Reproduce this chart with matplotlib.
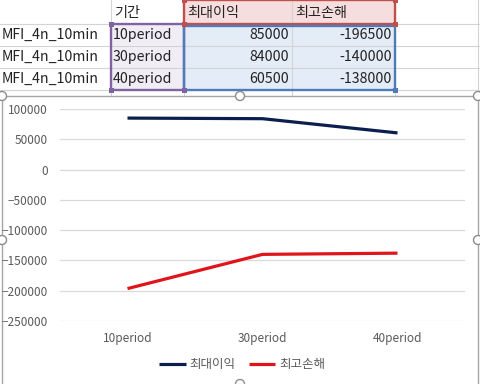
import matplotlib
matplotlib.use('Agg')
import matplotlib.pyplot as plt
from matplotlib.patches import Rectangle, Circle

plt.rcParams['font.family'] = ['Noto Sans CJK KR', 'DejaVu Sans']

# data
row_names = ['MFI_4n_10min', 'MFI_4n_10min', 'MFI_4n_10min']
periods = ['10period', '30period', '40period']
header = ['기간', '최대이익', '최고손해']
max_profit = [85000, 84000, 60500]
max_loss = [-196500, -140000, -138000]

navy = '#0B1F4F'
red = '#E0141B'
grid_gray = '#D9D9D9'
text_gray = '#595959'

fig = plt.figure(figsize=(4.8, 3.84), dpi=100)
fig.patch.set_facecolor('white')

# background axes in pixel coords for the sheet part
bg = fig.add_axes([0, 0, 1, 1])
bg.set_xlim(0, 480)
bg.set_ylim(384, 0)
bg.axis('off')

col_x = [0, 111, 184, 292, 395, 478]
row_y = [0, 24, 46, 68, 90]

# cell fills
bg.add_patch(Rectangle((184, 0), 211, 24, facecolor='#F5DEDD', edgecolor='none'))
bg.add_patch(Rectangle((184, 24), 211, 66, facecolor='#E3ECF7', edgecolor='none'))
bg.add_patch(Rectangle((111, 24), 73, 66, facecolor='#F1EDF5', edgecolor='none'))

# sheet grid
for y in row_y[1:]:
    bg.plot([0, 480], [y, y], color='#D4D4D4', lw=0.8, zorder=1.5)
for x in col_x[1:]:
    bg.plot([x, x], [0, 96], color='#D4D4D4', lw=0.8, zorder=1.5)

# range borders
bg.add_patch(Rectangle((184, 0), 211, 24, fill=False, edgecolor='#C0504D', lw=1.7, zorder=3))
bg.add_patch(Rectangle((111, 24), 73, 66, fill=False, edgecolor='#8064A2', lw=1.7, zorder=3))
bg.add_patch(Rectangle((184, 26), 211, 64, fill=False, edgecolor='#4F7CB8', lw=1.7, zorder=3))
for (hx, hy, c) in [(184, 0, '#C0504D'), (395, 0, '#C0504D'), (184, 24, '#C0504D'),
                    (395, 24, '#C0504D'), (111, 24, '#8064A2'), (111, 90, '#8064A2'),
                    (184, 90, '#8064A2'), (395, 90, '#4F7CB8')]:
    bg.add_patch(Rectangle((hx - 2.5, hy - 2.5), 5, 5, facecolor=c, edgecolor='none', zorder=4))

# sheet text
fs = 10.2
bg.text(114, 13, header[0], fontsize=fs, va='center', color='#222222')
bg.text(187, 13, header[1], fontsize=fs, va='center', color='#222222')
bg.text(295, 13, header[2], fontsize=fs, va='center', color='#222222')
for i in range(3):
    yc = (row_y[i + 1] + row_y[i + 2]) / 2
    bg.text(2, yc, row_names[i], fontsize=fs, va='center', color='#222222')
    bg.text(113, yc, periods[i], fontsize=fs, va='center', color='#222222')
    bg.text(289, yc, str(max_profit[i]), fontsize=fs, va='center', ha='right', color='#222222')
    bg.text(392, yc, str(max_loss[i]), fontsize=fs, va='center', ha='right', color='#222222')

# chart area
bg.add_patch(Rectangle((2, 96), 476, 290, facecolor='white', edgecolor='#A6A6A6', lw=1.0, zorder=5))
for (cx, cy) in [(2, 96), (240, 96), (478, 96), (2, 240), (478, 240), (240, 384)]:
    bg.add_patch(Circle((cx, cy), 4.5, facecolor='white', edgecolor='#8C8C8C', lw=1.0, zorder=6))

# chart
ax = fig.add_axes([60 / 480, 63 / 384, 405 / 480, 212 / 384])
ax.set_facecolor('none')
x = range(len(periods))
ax.plot(x, max_profit, color=navy, lw=2.3, label='최대이익', solid_capstyle='butt')
ax.plot(x, max_loss, color=red, lw=2.3, label='최고손해', solid_capstyle='butt')
ax.set_xlim(-0.5, 2.5)
ax.set_ylim(-250000, 100000)
ax.set_yticks(range(-250000, 100001, 50000))
ax.set_xticks(list(x))
ax.set_xticklabels(periods)
ax.yaxis.grid(True, color=grid_gray, lw=0.9)
ax.set_axisbelow(True)
for s in ax.spines.values():
    s.set_visible(False)
ax.tick_params(length=0, labelsize=8.5, colors=text_gray)
ax.tick_params(axis='y', pad=9)
ax.tick_params(axis='x', pad=8)

leg = ax.legend(loc='center', bbox_to_anchor=(0.45, -0.205), ncol=2, frameon=False,
                fontsize=9, handlelength=2.1, handletextpad=0.3, columnspacing=1.1)
for t in leg.get_texts():
    t.set_color(text_gray)

fig.savefig('out.png', dpi=100)
